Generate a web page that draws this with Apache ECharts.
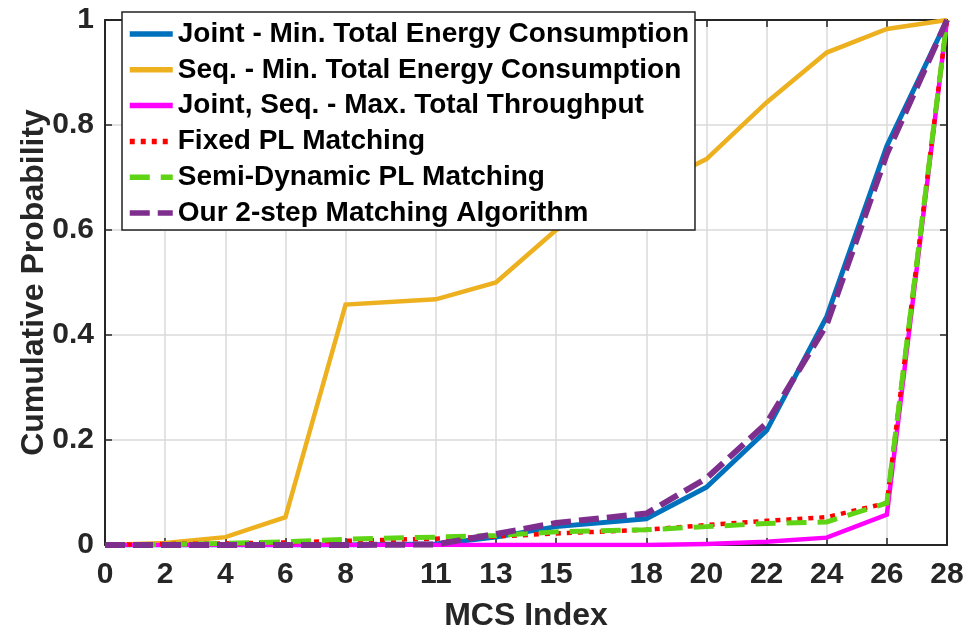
<!DOCTYPE html>
<html>
<head>
<meta charset="utf-8">
<script src="https://cdn.jsdelivr.net/npm/echarts@6/dist/echarts.min.js"></script>
<style>html,body{margin:0;padding:0;background:#fff}#c{width:972px;height:635px}</style>
</head>
<body>
<div id="c"></div>
<script>
const mcs = [0, 2, 4, 6, 8, 11, 13, 15, 18, 20, 22, 24, 26, 28];
const yTicks = [0, 0.2, 0.4, 0.6, 0.8, 1];
const jointMinEnergy = [0, 0, 0, 0, 0, 0.002, 0.015, 0.035, 0.05, 0.11, 0.218, 0.435, 0.76, 1];
const seqMinEnergy = [0, 0.004, 0.015, 0.053, 0.458, 0.468, 0.5, 0.6, 0.678, 0.735, 0.843, 0.938, 0.983, 1];
const maxThroughput = [0, 0, 0, 0, 0, 0, 0, 0, 0, 0.002, 0.006, 0.014, 0.058, 1];
const fixedPL = [0, 0.002, 0.003, 0.005, 0.008, 0.012, 0.016, 0.022, 0.029, 0.038, 0.046, 0.053, 0.08, 1];
const semiDynPL = [0, 0.001, 0.003, 0.006, 0.011, 0.015, 0.018, 0.025, 0.029, 0.035, 0.041, 0.044, 0.08, 1];
const twoStep = [0, 0, 0, 0, 0, 0.001, 0.021, 0.042, 0.06, 0.127, 0.232, 0.42, 0.745, 1];
const names = [
  'Joint - Min. Total Energy Consumption',
  'Seq. - Min. Total Energy Consumption',
  'Joint, Seq. - Max. Total Throughput',
  'Fixed PL Matching',
  'Semi-Dynamic PL Matching',
  'Our 2-step Matching Algorithm'
];

const FONT = '"Liberation Sans", Arial, Helvetica, sans-serif';
const AX = '#262626';
function pairs(ys) { return mcs.map((x, i) => [x, ys[i]]); }
function mk(name, ys, color, width, type, z) {
  return {
    name, type: 'line', data: pairs(ys), symbol: 'none', z,
    lineStyle: { color, width, type, cap: 'butt', join: 'miter' },
    itemStyle: { color },
    emphasis: { disabled: true }, animation: false
  };
}

const chart = echarts.init(document.getElementById('c'), null, { renderer: 'canvas' });
chart.setOption({
  animation: false,
  textStyle: { fontFamily: FONT },
  grid: { left: 105, right: 25, top: 20, bottom: 90, show: false, containLabel: false, outerBoundsMode: 'none' },
  xAxis: [{
    type: 'value', min: 0, max: 28,
    name: 'MCS Index', nameLocation: 'middle', nameGap: 55,
    nameTextStyle: { fontSize: 32, fontWeight: 'bold', color: AX, fontFamily: FONT },
    axisLine: { show: true, onZero: false, lineStyle: { color: AX, width: 2 } },
    axisTick: { show: true, inside: true, length: 7, customValues: mcs, lineStyle: { color: AX, width: 1.5 } },
    axisLabel: { customValues: mcs, fontSize: 30, fontWeight: 'bold', color: AX, margin: 15, fontFamily: FONT },
    splitLine: { show: true, lineStyle: { color: '#dadada', width: 1.5 } }
  }, {
    type: 'value', min: 0, max: 28, position: 'top',
    axisLine: { show: true, onZero: false, lineStyle: { color: AX, width: 2 } },
    axisTick: { show: true, inside: true, length: 7, customValues: mcs, lineStyle: { color: AX, width: 1.5 } },
    axisLabel: { show: false }, splitLine: { show: false }
  }],
  yAxis: [{
    type: 'value', min: 0, max: 1, interval: 0.2,
    name: 'Cumulative Probability', nameLocation: 'middle', nameGap: 55, nameMoveOverlap: false,
    nameTextStyle: { fontSize: 32, fontWeight: 'bold', color: AX, fontFamily: FONT },
    axisLine: { show: true, onZero: false, lineStyle: { color: AX, width: 2 } },
    axisTick: { show: true, inside: true, length: 7, lineStyle: { color: AX, width: 1.5 } },
    axisLabel: { fontSize: 30, fontWeight: 'bold', color: AX, margin: 11, fontFamily: FONT,
      formatter: v => String(+v.toFixed(1)) },
    splitLine: { show: true, lineStyle: { color: '#dadada', width: 1.5 } }
  }, {
    type: 'value', min: 0, max: 1, interval: 0.2, position: 'right',
    axisLine: { show: true, onZero: false, lineStyle: { color: AX, width: 2 } },
    axisTick: { show: true, inside: true, length: 7, lineStyle: { color: AX, width: 1.5 } },
    axisLabel: { show: false }, splitLine: { show: false }
  }],
  legend: {
    orient: 'vertical', left: 122, top: 12,
    data: names,
    backgroundColor: '#fff', borderColor: '#222', borderWidth: 1.5,
    padding: [8, 6, 3, 5], itemGap: 7.8, itemWidth: 43, itemHeight: 28,
    itemStyle: { opacity: 0 },
    lineStyle: { width: 5.5 },
    textStyle: { fontSize: 28, fontWeight: 'bold', color: '#000', fontFamily: FONT, lineHeight: 28, padding: [0, 0, 0, 0] },
    selectedMode: false, z: 10
  },
  series: [
    mk(names[0], jointMinEnergy, '#0072BD', 5, 'solid', 2),
    mk(names[1], seqMinEnergy, '#EDB120', 4.5, 'solid', 2),
    mk(names[2], maxThroughput, '#FF00FF', 4.5, 'solid', 3),
    mk(names[3], fixedPL, '#FF0000', 4.5, [5, 6], 4),
    mk(names[4], semiDynPL, '#5ED414', 5, [20, 11], 4),
    mk(names[5], twoStep, '#7E2F8E', 6, [20, 8], 5)
  ]
});
</script>
</body>
</html>
